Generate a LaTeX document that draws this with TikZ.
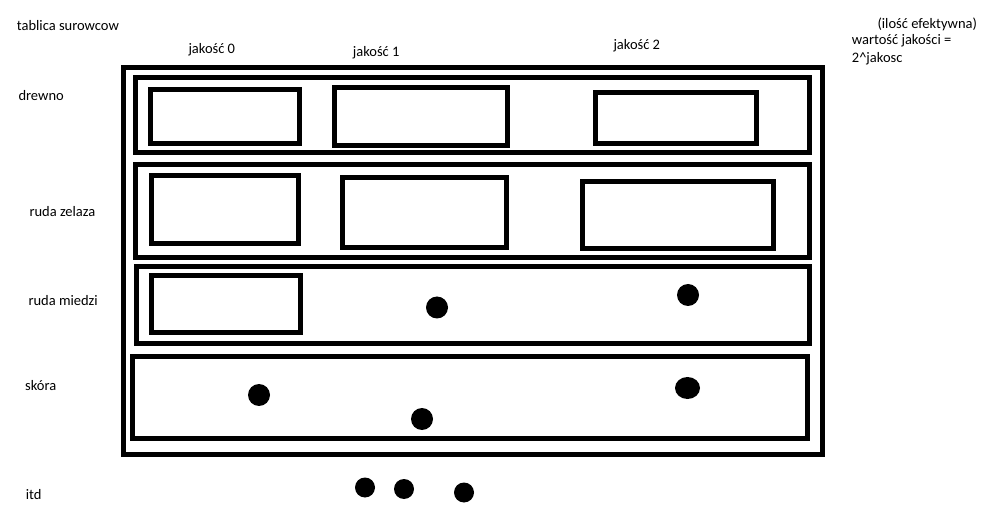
\documentclass[tikz,border=0pt]{standalone}
\usepackage{fontspec}
\setmainfont{Carlito}
\begin{document}
\begin{tikzpicture}[x=1pt,y=-1pt,font=\fontsize{14.5}{17}\selectfont,
    ramka/.style={line width=5pt},
    kropka/.style={fill=black},
    etykieta/.style={anchor=base west,inner sep=0pt}]
    \useasboundingbox (0,0) rectangle (983,529);
    \draw[ramka] (123.5,67.5) rectangle (822.5,454); %tablica
    % wiersze
    \draw[ramka] (135,78) rectangle (809,153);
    \draw[ramka] (135,165) rectangle (809,257.5);
    \draw[ramka] (136,266.5) rectangle (809,343.5);
    \draw[ramka] (132,356.5) rectangle (807,438.5);
    % drewno
    \draw[ramka] (150,90) rectangle (299,144);
    \draw[ramka] (334,87.5) rectangle (507.5,146);
    \draw[ramka] (595,93) rectangle (756.5,144);
    % ruda zelaza
    \draw[ramka] (151,176) rectangle (298,244);
    \draw[ramka] (342,178) rectangle (506.5,247.5);
    \draw[ramka] (582,181.5) rectangle (773.5,249);
    % ruda miedzi
    \draw[ramka] (151,276) rectangle (300,332.5);
    \fill[kropka] (437,307.5) circle (11);
    \fill[kropka] (688,295) circle (11);
    % skora
    \fill[kropka] (259,395) circle (11);
    \fill[kropka] (422,419) circle (11);
    \fill[kropka] (687.5,388) ellipse (12.5 and 11);
    % itd
    \fill[kropka] (365,487.5) circle (10);
    \fill[kropka] (404,489) circle (10);
    \fill[kropka] (464,492.5) circle (10);
    \node[etykieta] (tablica) at (16.7,31) {tablica surowcow};
    \node[etykieta] (jakosc0) at (188.3,53.3) {jakość 0};
    \node[etykieta] (jakosc1) at (352.7,57) {jakość 1};
    \node[etykieta] (jakosc2) at (613.3,50) {jakość 2};
    \node[etykieta] (drewno) at (18.3,100.7) {drewno};
    \node[etykieta] (zelazo) at (29.3,216.7) {ruda zelaza};
    \node[etykieta] (miedz) at (28.3,306) {ruda miedzi};
    \node[etykieta] (skora) at (25,390.7) {skóra};
    \node[etykieta] (itd) at (25.7,499.3) {itd};
    \node[etykieta] (efektywna) at (877.3,28.3) {(ilość efektywna)};
    \node[etykieta] (wartosc) at (851.7,45) {wartość jakości =};
    \node[etykieta] (wzor) at (851.7,62.3) {2\^{}jakosc};
\end{tikzpicture}
\end{document}
